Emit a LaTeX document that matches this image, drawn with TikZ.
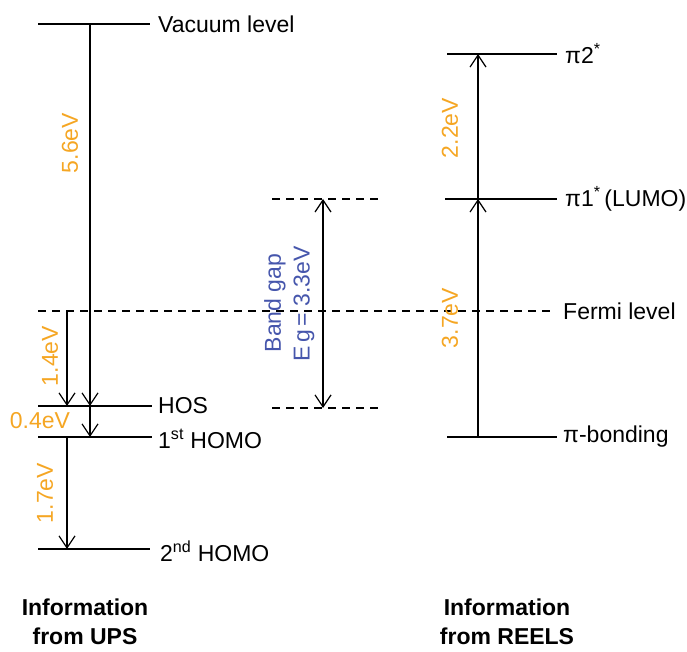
\documentclass[tikz,border=0pt]{standalone}
\usepackage{fontspec}
\setmainfont{Liberation Sans}
\usetikzlibrary{arrows.meta}
\definecolor{evorange}{HTML}{F5A623}
\definecolor{gapblue}{HTML}{4656AC}
\tikzset{
  level/.style={line width=1.4pt},
  dashlevel/.style={line width=1.2pt, dash pattern=on 8pt off 6pt},
  earrow/.style={-{Straight Barb[length=12pt, width=16pt, line width=1.2pt]}, line width=1.2pt},
  biarrow/.style={{Straight Barb[length=12pt, width=16pt, line width=1.2pt]}-{Straight Barb[length=12pt, width=16pt, line width=1.2pt]}, line width=1.2pt},
  levlabel/.style={anchor=west, inner sep=0pt, font=\fontsize{23}{26}\selectfont},
  evlabel/.style={text=evorange, inner sep=0pt, rotate=90, font=\fontsize{23}{26}\selectfont},
  gaplabel/.style={text=gapblue, inner sep=0pt, rotate=90, font=\fontsize{23}{26}\selectfont},
  infolabel/.style={align=center, inner sep=0pt, font=\bfseries\fontsize{23}{29}\selectfont}
}

\begin{document}
\begin{tikzpicture}[x=1pt, y=1pt]
  \useasboundingbox (0,0) rectangle (687,652);
  % UPS side
  \coordinate (vacL) at (38,628);   \coordinate (vacR) at (150,628);
  \coordinate (fermiL) at (38,341); \coordinate (fermiR) at (553,341);
  \coordinate (hosL) at (38,246);   \coordinate (hosR) at (152,246);
  \coordinate (homoAL) at (38,215); \coordinate (homoAR) at (152,215);
  \coordinate (homoBL) at (38,103); \coordinate (homoBR) at (150,103);
  \coordinate (colA) at (67,0);
  \coordinate (colB) at (90,0);
  \draw[level] (vacL) -- (vacR);
  \draw[dashlevel] (fermiL) -- (fermiR);
  \draw[level] (hosL) -- (hosR);
  \draw[level] (homoAL) -- (homoAR);
  \draw[level] (homoBL) -- (homoBR);
  \node[levlabel] (vaclab) at (158,628) {Vacuum level};
  \node[levlabel] (fermilab) at (563,341) {Fermi level};
  \node[levlabel] (hoslab) at (158,246) {HOS};
  \node[levlabel] (homoAlab) at (158,213) {1\textsuperscript{st} HOMO};
  \node[levlabel] (homoBlab) at (160,101) {2\textsuperscript{nd} HOMO};
  \draw[earrow] (vacL -| colB) -- (hosL -| colB);
  \draw[earrow] (fermiL -| colA) -- (hosL -| colA);
  \draw[earrow] (hosL -| colB) -- (homoAL -| colB);
  \draw[earrow] (homoAL -| colA) -- (homoBL -| colA);
  \node[evlabel] (ev56) at (70,509) {5.6eV};
  \node[evlabel] (ev14) at (50,296) {1.4eV};
  \node[evlabel, rotate=-90] (ev04) at (40,231) {0.4eV};
  \node[evlabel] (ev17) at (45,159) {1.7eV};
  % band gap
  \coordinate (gapTL) at (272,453); \coordinate (gapTR) at (380,453);
  \coordinate (gapBL) at (272,244); \coordinate (gapBR) at (380,244);
  \coordinate (colC) at (323,0);
  \draw[dashlevel] (gapTL) -- (gapTR);
  \draw[dashlevel] (gapBL) -- (gapBR);
  \draw[biarrow] (gapTL -| colC) -- (gapBL -| colC);
  \node[gaplabel] (gaplab) at (275,349) {Band gap};
  \node[gaplabel] (eglab) at (304,348) {E\,g\,= 3.3eV};
  % REELS side
  \coordinate (piBL) at (447,598); \coordinate (piBR) at (557,598);
  \coordinate (piAL) at (445,453); \coordinate (piAR) at (557,453);
  \coordinate (pibL) at (447,215); \coordinate (pibR) at (557,215);
  \coordinate (colD) at (478,0);
  \draw[level] (piBL) -- (piBR);
  \draw[level] (piAL) -- (piAR);
  \draw[level] (pibL) -- (pibR);
  \node[levlabel] (piBlab) at (565,598) {π2\textsuperscript{*}};
  \node[levlabel] (piAlab) at (565,453) {π1\textsuperscript{*}\,(LUMO)};
  \node[levlabel] (piblab) at (563,215) {π-bonding};
  \draw[earrow] (pibL -| colD) -- (piAL -| colD);
  \draw[earrow] (piAL -| colD) -- (piBL -| colD);
  \node[evlabel] (ev22) at (450,524) {2.2eV};
  \node[evlabel] (ev37) at (450,334) {3.7eV};
  % captions
  \node[infolabel] (upsinfo) at (85,30) {Information\\from UPS};
  \node[infolabel] (reelsinfo) at (507,30) {Information\\from REELS};
\end{tikzpicture}
\end{document}
